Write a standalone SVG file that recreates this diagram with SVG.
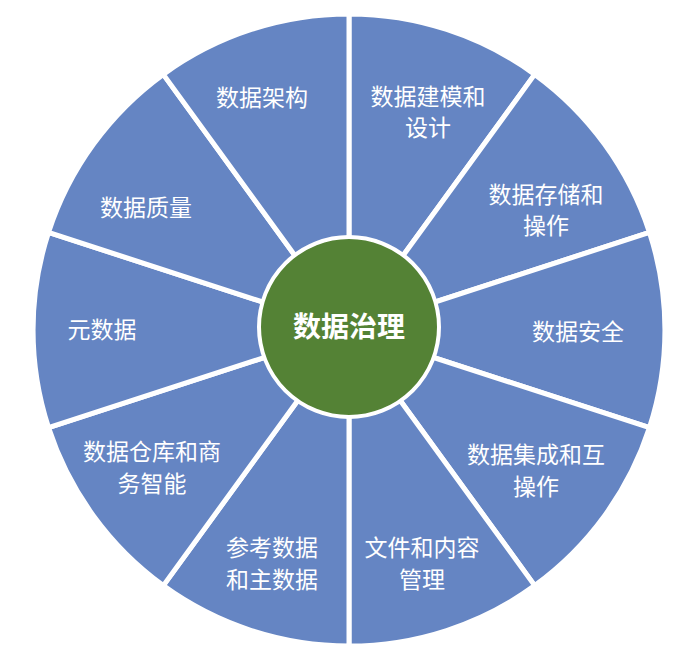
<svg xmlns="http://www.w3.org/2000/svg" width="692" height="672" viewBox="0 0 692 672">
<style>
.s{fill:#6585c3;stroke:#fff;stroke-width:5;stroke-linejoin:round}
.t{fill:#fff;font-family:"Noto Sans CJK SC","Liberation Sans",sans-serif;font-size:23px;text-anchor:middle}
.c{fill:#fff;font-family:"Noto Sans CJK SC","Liberation Sans",sans-serif;font-size:28px;font-weight:bold;text-anchor:middle}
</style>
<rect width="692" height="672" fill="#fff"/>
<circle cx="349" cy="330" r="317" fill="#5b7cbd"/>
<g id="s1"><path class="s" d="M349 330 L349 14 A316 316 0 0 1 534.7 74.4 Z"/><text class="t" x="428" y="105">数据建模和</text><text class="t" x="428" y="136">设计</text></g>
<g id="s2"><path class="s" d="M349 330 L534.7 74.4 A316 316 0 0 1 649.5 232.4 Z"/><text class="t" x="546" y="203">数据存储和</text><text class="t" x="546" y="234">操作</text></g>
<g id="s3"><path class="s" d="M349 330 L649.5 232.4 A316 316 0 0 1 649.5 427.6 Z"/><text class="t" x="578" y="340">数据安全</text></g>
<g id="s4"><path class="s" d="M349 330 L649.5 427.6 A316 316 0 0 1 534.7 585.6 Z"/><text class="t" x="536" y="463">数据集成和互</text><text class="t" x="536" y="495">操作</text></g>
<g id="s5"><path class="s" d="M349 330 L534.7 585.6 A316 316 0 0 1 349 646 Z"/><text class="t" x="422" y="556">文件和内容</text><text class="t" x="422" y="588">管理</text></g>
<g id="s6"><path class="s" d="M349 330 L349 646 A316 316 0 0 1 163.3 585.6 Z"/><text class="t" x="272" y="556">参考数据</text><text class="t" x="272" y="588">和主数据</text></g>
<g id="s7"><path class="s" d="M349 330 L163.3 585.6 A316 316 0 0 1 48.5 427.6 Z"/><text class="t" x="152" y="460">数据仓库和商</text><text class="t" x="152" y="492">务智能</text></g>
<g id="s8"><path class="s" d="M349 330 L48.5 427.6 A316 316 0 0 1 48.5 232.4 Z"/><text class="t" x="102" y="338">元数据</text></g>
<g id="s9"><path class="s" d="M349 330 L48.5 232.4 A316 316 0 0 1 163.3 74.4 Z"/><text class="t" x="146" y="216">数据质量</text></g>
<g id="s10"><path class="s" d="M349 330 L163.3 74.4 A316 316 0 0 1 349 14 Z"/><text class="t" x="262" y="106">数据架构</text></g>
<g id="center"><circle cx="349" cy="327" r="90" fill="#548235" stroke="#fff" stroke-width="4"/><text class="c" x="349" y="337">数据治理</text></g>
</svg>
